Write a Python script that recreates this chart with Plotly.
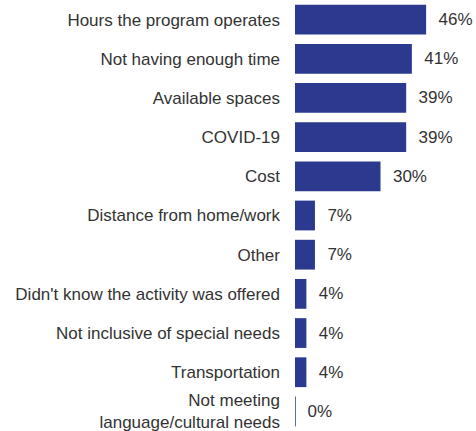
import plotly.graph_objects as go

categories = [
    "Hours the program operates",
    "Not having enough time",
    "Available spaces",
    "COVID-19",
    "Cost",
    "Distance from home/work",
    "Other",
    "Didn't know the activity was offered",
    "Not inclusive of special needs",
    "Transportation",
    "Not meeting<br>language/cultural needs",
]
values = [46, 41, 39, 39, 30, 7, 7, 4, 4, 4, 0]
value_labels = [f"{v}%" for v in values]

bar_color = "#2b3a8f"
line_widths = [1 if v == 0 else 0 for v in values]

fig = go.Figure(
    go.Bar(
        x=values,
        y=categories,
        orientation="h",
        marker=dict(color=bar_color, line=dict(color=bar_color, width=line_widths)),
        text=["  " + t for t in value_labels],
        textposition="outside",
        textfont=dict(family="Liberation Sans, Arial, sans-serif", size=17, color="#333333"),
        cliponaxis=False,
        hoverinfo="skip",
    )
)

fig.update_layout(
    width=476,
    height=431,
    margin=dict(l=295, r=0, t=0, b=0, autoexpand=False),
    paper_bgcolor="white",
    plot_bgcolor="white",
    bargap=0.24,
    showlegend=False,
    font=dict(family="Liberation Sans, Arial, sans-serif", size=17, color="#333333"),
    xaxis=dict(range=[0, 63.5], visible=False),
    yaxis=dict(
        autorange="reversed",
        showgrid=False,
        showline=False,
        ticks="",
        ticklabelstandoff=14,
        tickfont=dict(size=17, color="#333333"),
    ),
)

fig.write_html(
    "out.html",
    config={"displayModeBar": False},
    post_script="document.body.style.margin='0';document.body.style.overflow='hidden';",
)
